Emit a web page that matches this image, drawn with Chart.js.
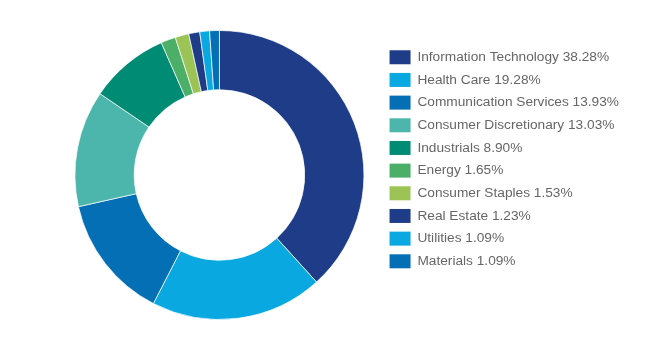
<!DOCTYPE html>
<html>
<head>
<meta charset="utf-8">
<script src="https://cdn.jsdelivr.net/npm/chart.js@4/dist/chart.umd.min.js"></script>
<style>
  html, body { margin: 0; padding: 0; background: #fff; }
  #wrap { width: 658px; height: 354px; }
</style>
</head>
<body>
<div id="wrap"><canvas id="chart" width="658" height="354"></canvas></div>
<script>
// sectors and their weights (%)
const sectors = [
    'Information Technology',
    'Health Care',
    'Communication Services',
    'Consumer Discretionary',
    'Industrials',
    'Energy',
    'Consumer Staples',
    'Real Estate',
    'Utilities',
    'Materials'
];
const weights = [38.28, 19.28, 13.93, 13.03, 8.90, 1.65, 1.53, 1.23, 1.09, 1.09];
const colors = [
    '#1f3c88', '#0aa8e0', '#046fb5', '#4db6ac', '#008b74',
    '#4caf68', '#9bc356', '#1f3c88', '#0aa8e0', '#046fb5'
];

const ctx = document.getElementById('chart').getContext('2d');

new Chart(ctx, {
    type: 'doughnut',
    data: {
        labels: sectors,
        datasets: [{
            data: weights,
            backgroundColor: colors,
            borderColor: 'rgba(255,255,255,0.7)',
            borderWidth: 1,
        }],
    },
    options: {
        responsive: false,
        animation: false,
        cutout: '59%',
        layout: {
            padding: { left: 58, top: 30, bottom: 34, right: 29 },
        },
        plugins: {
            tooltip: { enabled: false },
            legend: {
                position: 'right',
                align: 'start',
                // empty title just pushes the items down a bit
                title: { display: true, text: '', font: { size: 10, lineHeight: 1 }, padding: { top: 0, bottom: 1.6 } },
                labels: {
                    boxWidth: 21,
                    boxHeight: 14,
                    padding: 8.67,
                    color: '#2b2b2b',
                    font: { family: '"Liberation Sans", Arial, sans-serif', size: 13.7 },
                    generateLabels: (chart) => sectors.map((s, i) => ({
                        text: s + ' ' + weights[i].toFixed(2) + '%',
                        fillStyle: colors[i],
                        strokeStyle: colors[i],
                        lineWidth: 0,
                        index: i,
                    })),
                },
            },
        },
    },
});
</script>
</body>
</html>
